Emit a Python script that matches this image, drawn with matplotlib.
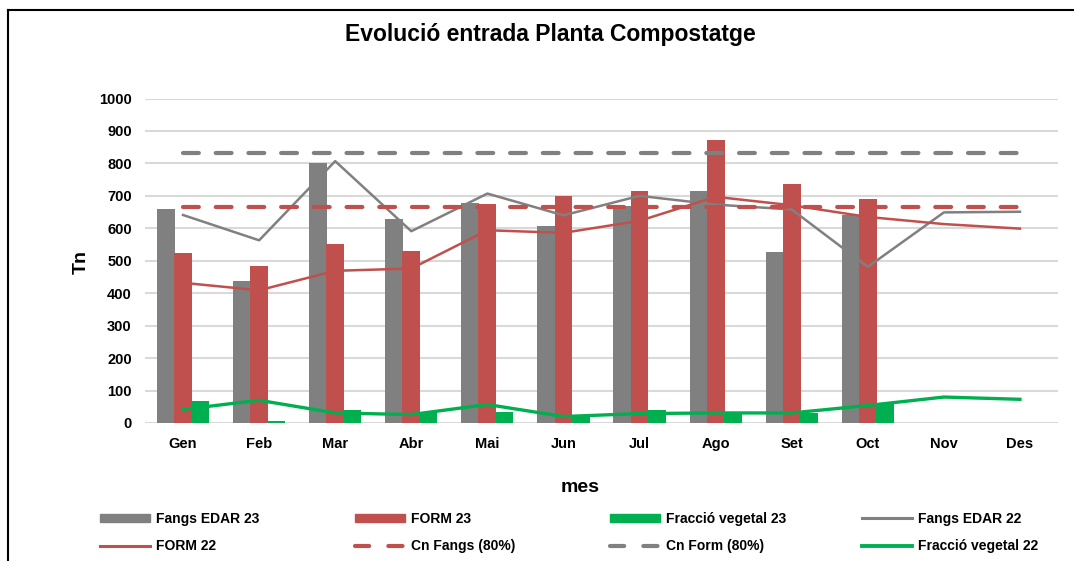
import matplotlib
matplotlib.use("Agg")
import matplotlib.pyplot as plt
from matplotlib.patches import Patch
from matplotlib.lines import Line2D
import numpy as np

plt.rcParams['font.family'] = ['Liberation Sans', 'DejaVu Sans']

months = ["Gen", "Feb", "Mar", "Abr", "Mai", "Jun", "Jul", "Ago", "Set", "Oct", "Nov", "Des"]

fangs_edar_23 = [658, 437, 800, 629, 679, 607, 670, 714, 527, 640]
form_23 = [524, 485, 551, 529, 676, 698, 714, 871, 735, 689]
fraccio_vegetal_23 = [68, 6, 39, 34, 34, 21, 41, 28, 31, 60]

fangs_edar_22 = [641, 563, 807, 591, 707, 640, 700, 673, 658, 481, 649, 651]
form_22 = [432, 409, 469, 476, 594, 586, 623, 697, 671, 635, 613, 599]
fraccio_vegetal_22 = [42, 70, 31, 26, 57, 20, 29, 31, 31, 54, 80, 73]

cn_fangs = 666
cn_form = 832

GRAY = "#808080"
RED = "#C0504D"
GREEN = "#00B050"

fig = plt.figure(figsize=(10.74, 5.61), dpi=100)
ax = fig.add_axes([145/1074, 1-423/561, (1058-145)/1074, (423-98.5)/561])

x = np.arange(len(months))
x23 = np.arange(len(fangs_edar_23))
w = 0.235
off = 0.225
ax.bar(x23 - off, fangs_edar_23, width=w, color=GRAY, zorder=2)
ax.bar(x23, form_23, width=w, color=RED, zorder=2)
ax.bar(x23 + off, fraccio_vegetal_23, width=w, color=GREEN, zorder=2)

ax.plot(x, fangs_edar_22, color=GRAY, lw=1.8, zorder=3)
ax.plot(x, form_22, color=RED, lw=1.8, zorder=3)
ax.plot(x, fraccio_vegetal_22, color=GREEN, lw=2.4, zorder=3)
ax.plot(x, [cn_fangs]*len(months), color=RED, lw=3, dashes=(3.8, 4.05),
        dash_capstyle='round', zorder=3)
ax.plot(x, [cn_form]*len(months), color=GRAY, lw=3, dashes=(3.8, 4.05),
        dash_capstyle='round', zorder=3)

ax.set_xlim(-0.5, 11.5)
ax.set_ylim(0, 1000)
ax.set_yticks(np.arange(0, 1001, 100))
ax.set_xticks(x)
ax.set_xticklabels(months)
ax.yaxis.grid(True, color="#d9d9d9", lw=1.5, zorder=0)
ax.set_axisbelow(True)
for s in ax.spines.values():
    s.set_visible(False)
ax.tick_params(length=0, labelsize=10.5)
ax.tick_params(axis='y', pad=9.5)
ax.tick_params(axis='x', pad=10)
for lab in ax.get_xticklabels() + ax.get_yticklabels():
    lab.set_fontweight('bold')

fig.text(550/1074, 1-35/561, "Evolució entrada Planta Compostatge", ha='center', va='center',
         fontsize=16.5, fontweight='bold')
fig.text(81/1074, 1-262/561, "Tn", ha='center', va='center', rotation=90,
         fontsize=14, fontweight='bold')
fig.text(580/1074, 1-487/561, "mes", ha='center', va='center',
         fontsize=14, fontweight='bold')

handles = [
    Patch(color=GRAY), Line2D([], [], color=RED, lw=2.2),
    Patch(color=RED), Line2D([], [], color=RED, lw=3, dashes=(3.4, 4.6), dash_capstyle='round'),
    Patch(color=GREEN), Line2D([], [], color=GRAY, lw=3, dashes=(3.4, 4.6), dash_capstyle='round'),
    Line2D([], [], color=GRAY, lw=2.2), Line2D([], [], color=GREEN, lw=2.8),
]
labels = ["Fangs EDAR 23", "FORM 22", "FORM 23", "Cn Fangs (80%)",
          "Fracció vegetal 23", "Cn Form (80%)", "Fangs EDAR 22", "Fracció vegetal 22"]
colx = [100, 355, 610, 862]
for i, cx in enumerate(colx):
    leg = fig.legend(handles[2*i:2*i+2], labels[2*i:2*i+2], loc='upper left',
                     bbox_to_anchor=(cx/1074, 1-512/561), frameon=False,
                     handlelength=3.6, handleheight=0.55, handletextpad=0.45,
                     labelspacing=0.95, borderpad=0, borderaxespad=0,
                     prop={'weight': 'bold', 'size': 10})

fig.add_artist(Line2D([8/1074, 8/1074], [0, 1-10/561], color='black', lw=1.5))
fig.add_artist(Line2D([8/1074, 1], [1-10/561, 1-10/561], color='black', lw=1.5))

fig.savefig("out.png", dpi=100)
